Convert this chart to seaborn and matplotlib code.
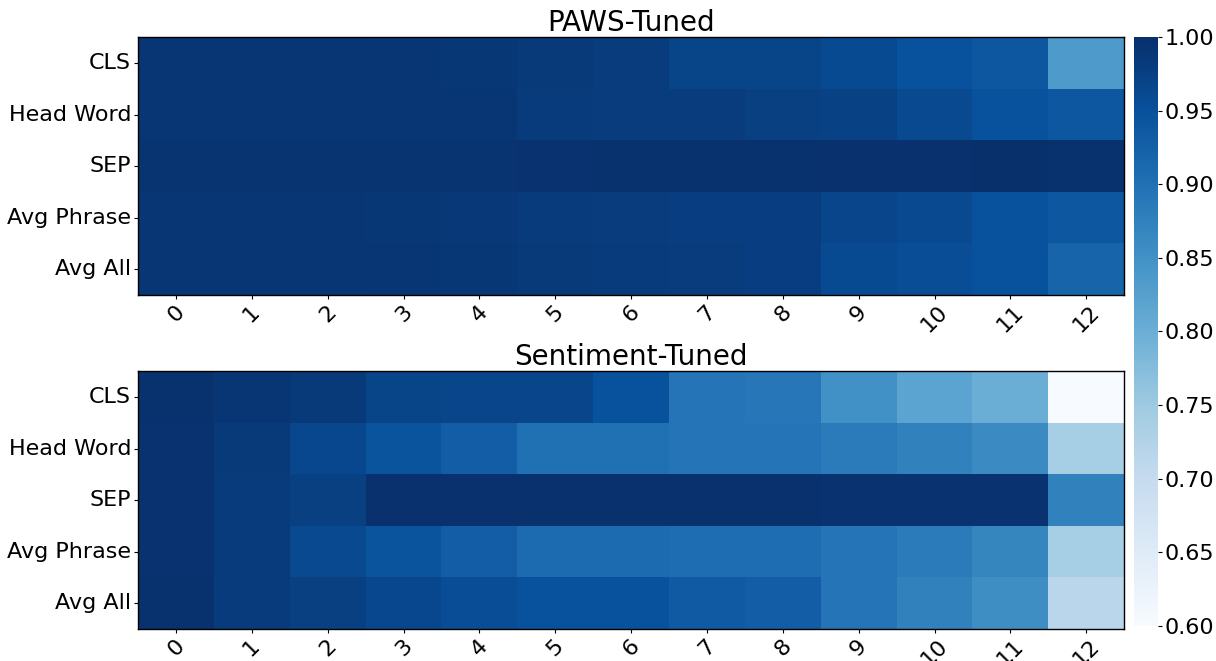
import numpy as np
import pandas as pd
import matplotlib
matplotlib.use("Agg")
import matplotlib.pyplot as plt
import seaborn as sns

rows = ["CLS", "Head Word", "SEP", "Avg Phrase", "Avg All"]
layers = [str(i) for i in range(13)]

paws_cls = [0.992, 0.992, 0.991, 0.990, 0.989, 0.985, 0.980, 0.970, 0.970, 0.960, 0.950, 0.940, 0.835]
paws_head = [0.991, 0.991, 0.990, 0.990, 0.990, 0.982, 0.980, 0.980, 0.976, 0.972, 0.962, 0.950, 0.940]
paws_sep = [0.993, 0.993, 0.993, 0.993, 0.993, 0.995, 0.996, 0.996, 0.996, 0.998, 0.998, 0.999, 0.996]
paws_phrase = [0.992, 0.992, 0.991, 0.989, 0.987, 0.982, 0.981, 0.978, 0.977, 0.968, 0.962, 0.950, 0.940]
paws_all = [0.992, 0.992, 0.991, 0.990, 0.988, 0.984, 0.982, 0.980, 0.978, 0.960, 0.955, 0.950, 0.920]

sent_cls = [0.996, 0.990, 0.985, 0.970, 0.968, 0.968, 0.950, 0.895, 0.890, 0.850, 0.820, 0.800, 0.600]
sent_head = [0.995, 0.985, 0.965, 0.945, 0.930, 0.900, 0.900, 0.895, 0.895, 0.885, 0.875, 0.860, 0.740]
sent_sep = [0.995, 0.982, 0.975, 0.998, 0.998, 0.998, 0.998, 0.998, 0.998, 0.995, 0.995, 0.995, 0.875]
sent_phrase = [0.995, 0.982, 0.962, 0.945, 0.930, 0.910, 0.910, 0.905, 0.905, 0.895, 0.885, 0.870, 0.740]
sent_all = [0.996, 0.982, 0.975, 0.965, 0.955, 0.950, 0.950, 0.935, 0.930, 0.895, 0.875, 0.855, 0.715]

paws = pd.DataFrame([paws_cls, paws_head, paws_sep, paws_phrase, paws_all], index=rows, columns=layers)
sent = pd.DataFrame([sent_cls, sent_head, sent_sep, sent_phrase, sent_all], index=rows, columns=layers)

fig = plt.figure(figsize=(12.16, 6.61), dpi=100)
ax_top = fig.add_axes([0.1135, 0.5537, 0.811, 0.390])
ax_bot = fig.add_axes([0.1135, 0.0484, 0.811, 0.390])
cax = fig.add_axes([0.9326, 0.053, 0.0197, 0.891])

for ax, df, title in [(ax_top, paws, "PAWS-Tuned"), (ax_bot, sent, "Sentiment-Tuned")]:
    sns.heatmap(df, ax=ax, cmap="Blues", vmin=0.6, vmax=1.0,
                cbar=(ax is ax_top), cbar_ax=cax if ax is ax_top else None)
    for s in ax.spines.values():
        s.set_visible(True)
        s.set_color("black")
        s.set_linewidth(1)
    ax.set_title(title, fontsize=20, pad=3)
    ax.tick_params(axis="both", labelsize=16, length=3, pad=2)
    ax.set_yticklabels(rows, rotation=0)
    ax.set_xticklabels(layers, rotation=45)

cbar = ax_top.collections[0].colorbar
cbar.outline.set_visible(True)
cbar.outline.set_edgecolor("black")
cbar.ax.tick_params(labelsize=16, length=3, pad=2)
cbar.set_ticks([0.6, 0.65, 0.7, 0.75, 0.8, 0.85, 0.9, 0.95, 1.0])
cbar.set_ticklabels(["0.60", "0.65", "0.70", "0.75", "0.80", "0.85", "0.90", "0.95", "1.00"])

fig.savefig("out.png", dpi=100)
